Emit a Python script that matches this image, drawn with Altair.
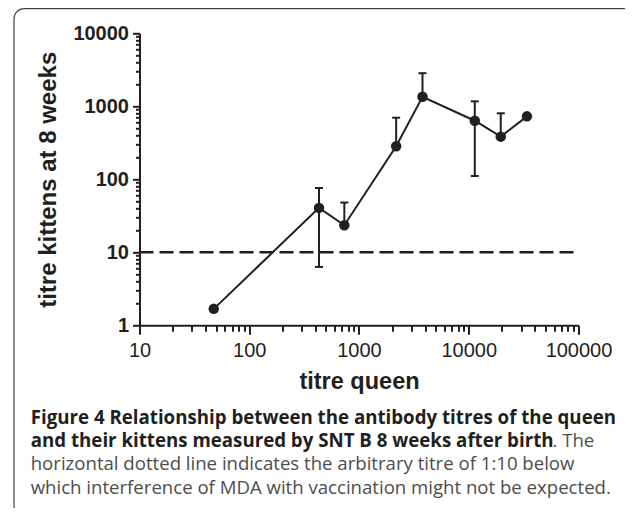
import altair as alt
import pandas as pd

# Data
queen_titre = [47.5, 432, 735, 2180, 3790, 11350, 19570, 33900]
kitten_titre = [1.68, 40.6, 23.5, 284, 1350, 634, 384, 728]
err_upper = [1.68, 76, 48, 698, 2840, 1170, 802, 728]
err_lower = [1.68, 6.3, 23.5, 284, 1350, 111, 384, 728]

ref_level = [10]
ref_x_from = [10]
ref_x_to = [90000]

x_decades = [10, 100, 1000, 10000, 100000]
y_decades = [1, 10, 100, 1000, 10000]

caption_bold_1 = "Figure 4 Relationship between the antibody titres of the queen"
caption_bold_2 = "and their kittens measured by SNT B 8 weeks after birth"
caption_reg_2 = ". The"
caption_reg_3 = "horizontal dotted line indicates the arbitrary titre of 1:10 below"
caption_reg_4 = "which interference of MDA with vaccination might not be expected."

INK = "#231f20"
GREY = "#4d4d4d"

df = pd.DataFrame({"x": queen_titre, "y": kitten_titre, "lo": err_lower, "hi": err_upper})
err_df = df[df["hi"] > df["y"]]
low_df = df[df["lo"] < df["y"]]
caps = pd.concat([
    pd.DataFrame({"x": err_df["x"], "y": err_df["hi"]}),
    pd.DataFrame({"x": low_df["x"], "y": low_df["lo"]}),
])
ref_df = pd.DataFrame({"x": ref_x_from, "x2": ref_x_to, "y": ref_level})

x_ticks = [m * 10 ** e for e in range(1, 5) for m in range(1, 10)] + [100000]
y_ticks = [m * 10 ** e for e in range(0, 4) for m in range(1, 10)] + [10000]

x_test = "indexof(" + str(x_decades) + ", datum.value) >= 0"
y_test = "indexof(" + str(y_decades) + ", datum.value) >= 0"

x_scale = alt.Scale(type="log", domain=[10, 100000], nice=False)
y_scale = alt.Scale(type="log", domain=[1, 10000], nice=False)

x_axis = alt.Axis(
    values=x_ticks,
    labelExpr=x_test + " ? format(datum.value, 'd') : ''",
    tickSize={"condition": {"test": x_test, "value": 9}, "value": 6},
    tickWidth=2, tickColor=INK, domainWidth=2, domainColor=INK,
    labelFont="Liberation Sans", labelFontSize=20, labelColor=INK,
    labelPadding=6, labelOverlap=False, labelFlush=False,
    title="titre queen", titleFont="Liberation Sans", titleFontSize=23.5,
    titleFontWeight="bold", titleColor=INK, titlePadding=9, grid=False,
)
y_axis = alt.Axis(
    values=y_ticks,
    labelExpr=y_test + " ? format(datum.value, 'd') : ''",
    tickSize={"condition": {"test": y_test, "value": 7}, "value": 4},
    tickWidth=2, tickColor=INK, domainWidth=2, domainColor=INK,
    labelFont="Liberation Sans", labelFontSize=20, labelFontWeight="bold",
    labelColor=INK, labelPadding=4, labelOverlap=False, labelFlush=False,
    title="titre kittens at 8 weeks", titleFont="Liberation Sans",
    titleFontSize=24, titleFontWeight="bold", titleColor=INK, titlePadding=12,
    grid=False,
)

X = alt.X("x:Q", scale=x_scale, axis=x_axis)
Y = alt.Y("y:Q", scale=y_scale, axis=y_axis)
Ylo = alt.Y("lo:Q", scale=y_scale, axis=y_axis)

one = alt.Data(values=[{"k": 1}])

border = alt.Chart(one).mark_rect(
    fill=None, stroke="#444444", strokeWidth=1.2, cornerRadius=10
).encode(x=alt.value(-125.5), x2=alt.value(520), y=alt.value(-24.6), y2=alt.value(481.7))

ref_line = alt.Chart(ref_df).mark_rule(strokeDash=[14, 6], strokeWidth=2.5, color=INK).encode(
    x=X, x2="x2:Q", y=Y
)

err_rule = alt.Chart(df).mark_rule(strokeWidth=2, color=INK).encode(
    x=X, y=Ylo, y2="hi:Q"
)
caps_layer = alt.Chart(caps).mark_tick(orient="horizontal", size=8, thickness=2, color=INK, opacity=1).encode(
    x=X, y=Y
)
line = alt.Chart(df).mark_line(strokeWidth=2, color=INK).encode(x=X, y=Y)
pts = alt.Chart(df).mark_circle(size=110, color=INK, opacity=1).encode(x=X, y=Y)


def cap(text, x, y, bold, color):
    return alt.Chart(one).mark_text(
        align="left", baseline="alphabetic", font="Open Sans",
        fontSize=18.7 if bold else 18.6,
        fontWeight="bold" if bold else "normal", color=color,
    ).encode(x=alt.value(x), y=alt.value(y), text=alt.value(text))


c1 = cap(caption_bold_1, -108.8, 391.0, True, INK)
c2 = cap(caption_bold_2, -108.8, 414.0, True, INK)
c2b = cap(caption_reg_2, 413, 414.0, False, GREY)
c3 = cap(caption_reg_3, -108.8, 437.0, False, GREY)
c4 = cap(caption_reg_4, -108.8, 461.0, False, GREY)

chart = alt.layer(
    ref_line, err_rule, caps_layer, line, pts, border, c1, c2, c2b, c3, c4
).properties(
    width=439, height=292,
    autosize="none",
    padding={"left": 131.5, "top": 25.3, "right": 46.5, "bottom": 182.7},
    background="white",
).configure_view(stroke=None)

chart.save("out.html", embed_options={"renderer": "svg", "actions": False})
